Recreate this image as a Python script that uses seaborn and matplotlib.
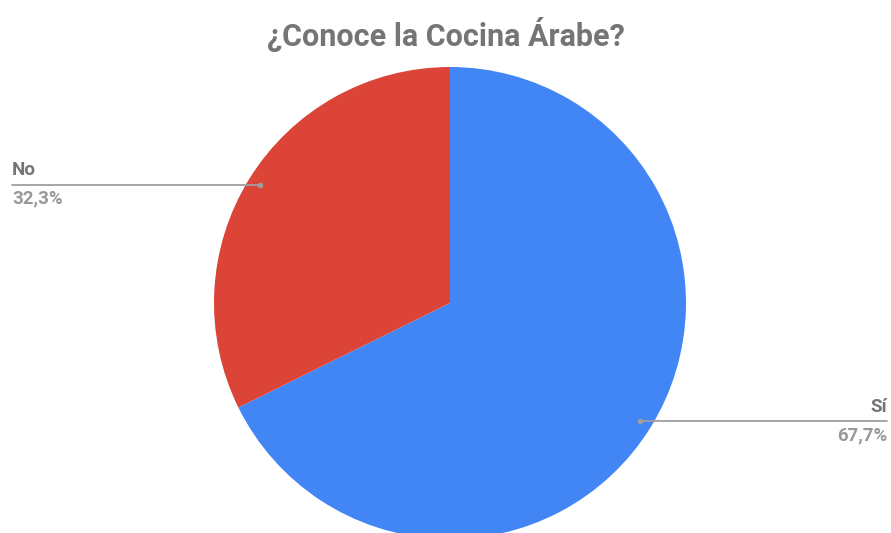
import matplotlib
matplotlib.use("Agg")
import matplotlib.pyplot as plt
import seaborn as sns
import numpy as np

sns.set_theme(style="white")
plt.rcParams['font.family'] = ['Roboto', 'DejaVu Sans']

categories = ["Sí", "No"]
values = [67.7, 32.3]
value_labels = ["67,7%", "32,3%"]
colors = ["#4285f4", "#db4437"]

W, H = 891, 533
fig = plt.figure(figsize=(W / 100, H / 100), dpi=100)
cx, cy, R = 450, 303, 236
ax = fig.add_axes([(cx - R) / W, (H - cy - R) / H, 2 * R / W, 2 * R / H])
ax.pie(values, colors=colors, startangle=90, counterclock=False,
       wedgeprops=dict(linewidth=0), radius=1)
ax.set_xlim(-1, 1)
ax.set_ylim(-1, 1)
ax.set_aspect('equal')
ax.axis('off')

gray = "#757575"
line_gray = "#9e9e9e"
total = sum(values)
start = 0.0
left_x = (12 - cx) / R
right_x = (887 - cx) / R
for cat, v, lab in zip(categories, values, value_labels):
    mid = start + v / total * 360 / 2
    start += v / total * 360
    theta = np.deg2rad(mid)
    px, py = 0.95 * np.sin(theta), 0.95 * np.cos(theta)
    ax.plot([px], [py], 'o', color=line_gray, markersize=3, clip_on=False, zorder=5)
    if px > 0:
        ex, ha = right_x, 'right'
    else:
        ex, ha = left_x, 'left'
    ax.plot([px, ex], [py, py], color=line_gray, linewidth=1.3, clip_on=False, zorder=4)
    ax.text(ex, py + 0.022, cat, ha=ha, va='bottom', fontsize=13.5, fontweight='bold', color=gray)
    ax.text(ex, py - 0.022, lab, ha=ha, va='top', fontsize=13.5, fontweight='bold', color="#999999")

fig.text(0.5, 1 - 35 / H, "¿Conoce la Cocina Árabe?", ha='center', va='center',
         fontsize=22, fontweight='bold', color=gray)

fig.savefig("out.png", dpi=100, facecolor='white')
